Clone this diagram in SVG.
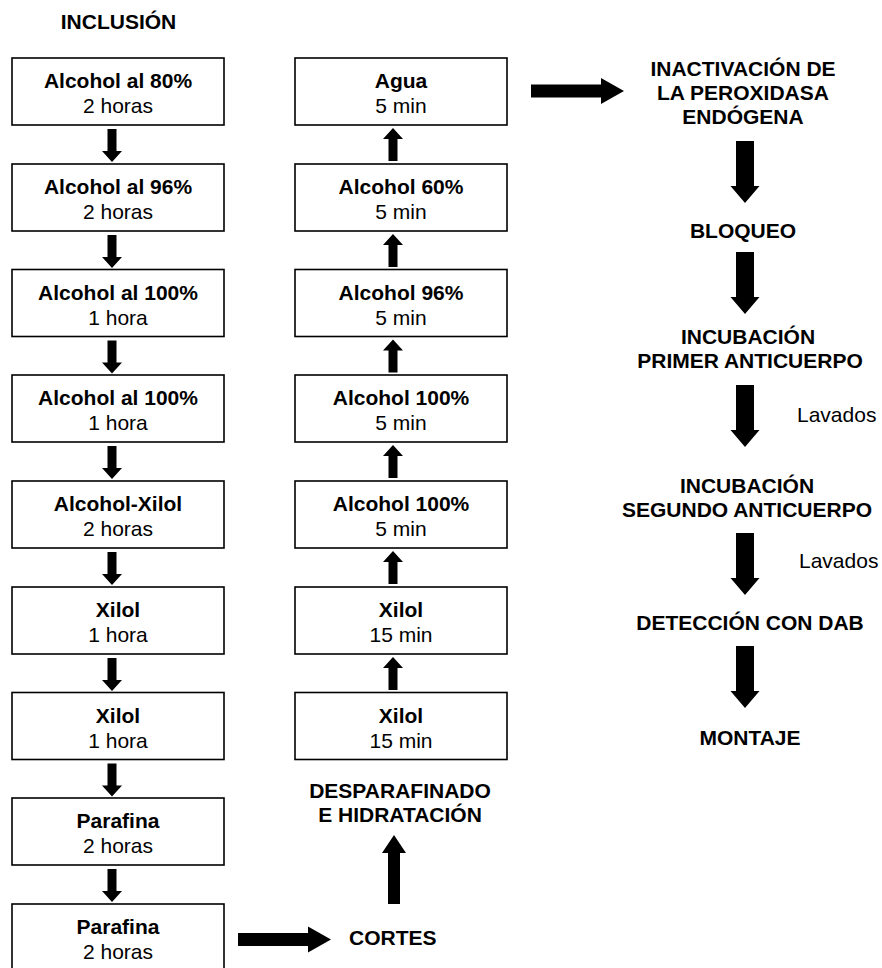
<svg xmlns="http://www.w3.org/2000/svg" xmlns:xlink="http://www.w3.org/1999/xlink" width="882" height="968" viewBox="0 0 882 968">
<style>
text{font-family:"Liberation Sans",Arial,sans-serif;font-size:21px;fill:#000}
.b{font-weight:bold;text-anchor:middle}
.r{text-anchor:middle}
.l{text-anchor:start}
.box{fill:#fff;stroke:#000;stroke-width:1.6}
.arr{fill:#000}
</style>
<defs>
<path id="sd" d="M-4.5,0H4.5V22H10L0,33L-10,22H-4.5Z"/>
<path id="su" d="M0,0L10,11H4.5V33H-4.5V11H-10Z"/>
<path id="bd" d="M-9,0H9V45H14.5L0,62L-14.5,45H-9Z"/>
<path id="bu" d="M0,0L12,18H6V69H-6V18H-12Z"/>
<path id="br" d="M0,-6.5H70V-13L93,0L70,13V6.5H0Z"/>
</defs>
<g id="title"><text class="b" x="118.5" y="29">INCLUSIÓN</text></g>

<g id="l1"><rect class="box" x="12" y="58" width="212" height="67"/><text class="b" x="118" y="88">Alcohol al 80%</text><text class="r" x="118" y="113">2 horas</text></g>
<g id="l2"><rect class="box" x="12" y="164" width="212" height="67"/><text class="b" x="118" y="194">Alcohol al 96%</text><text class="r" x="118" y="219">2 horas</text></g>
<g id="l3"><rect class="box" x="12" y="269.5" width="212" height="67"/><text class="b" x="118" y="299.5">Alcohol al 100%</text><text class="r" x="118" y="324.5">1 hora</text></g>
<g id="l4"><rect class="box" x="12" y="375" width="212" height="67"/><text class="b" x="118" y="405">Alcohol al 100%</text><text class="r" x="118" y="430">1 hora</text></g>
<g id="l5"><rect class="box" x="12" y="481" width="212" height="67"/><text class="b" x="118" y="511">Alcohol-Xilol</text><text class="r" x="118" y="536">2 horas</text></g>
<g id="l6"><rect class="box" x="12" y="587" width="212" height="67"/><text class="b" x="118" y="617">Xilol</text><text class="r" x="118" y="642">1 hora</text></g>
<g id="l7"><rect class="box" x="12" y="692.5" width="212" height="67"/><text class="b" x="118" y="722.5">Xilol</text><text class="r" x="118" y="747.5">1 hora</text></g>
<g id="l8"><rect class="box" x="12" y="798" width="212" height="67"/><text class="b" x="118" y="828">Parafina</text><text class="r" x="118" y="853">2 horas</text></g>
<g id="l9"><rect class="box" x="12" y="904" width="212" height="67"/><text class="b" x="118" y="934">Parafina</text><text class="r" x="118" y="959">2 horas</text></g>

<g id="m1"><rect class="box" x="295" y="58" width="212" height="67"/><text class="b" x="401" y="88">Agua</text><text class="r" x="401" y="113">5 min</text></g>
<g id="m2"><rect class="box" x="295" y="164" width="212" height="67"/><text class="b" x="401" y="194">Alcohol 60%</text><text class="r" x="401" y="219">5 min</text></g>
<g id="m3"><rect class="box" x="295" y="269.5" width="212" height="67"/><text class="b" x="401" y="299.5">Alcohol 96%</text><text class="r" x="401" y="324.5">5 min</text></g>
<g id="m4"><rect class="box" x="295" y="375" width="212" height="67"/><text class="b" x="401" y="405">Alcohol 100%</text><text class="r" x="401" y="430">5 min</text></g>
<g id="m5"><rect class="box" x="295" y="481" width="212" height="67"/><text class="b" x="401" y="511">Alcohol 100%</text><text class="r" x="401" y="536">5 min</text></g>
<g id="m6"><rect class="box" x="295" y="587" width="212" height="67"/><text class="b" x="401" y="617">Xilol</text><text class="r" x="401" y="642">15 min</text></g>
<g id="m7"><rect class="box" x="295" y="692.5" width="212" height="67"/><text class="b" x="401" y="722.5">Xilol</text><text class="r" x="401" y="747.5">15 min</text></g>

<g id="desparafinado"><text class="b" x="400" y="798">DESPARAFINADO</text><text class="b" x="400" y="822">E HIDRATACIÓN</text></g>
<g id="cortes"><text class="l" font-weight="bold" x="349" y="945">CORTES</text></g>

<g id="r1"><text class="b" x="743" y="76">INACTIVACIÓN DE</text><text class="b" x="743" y="100">LA PEROXIDASA</text><text class="b" x="743" y="124">ENDÓGENA</text></g>
<g id="r2"><text class="b" x="743" y="238">BLOQUEO</text></g>
<g id="r3"><text class="b" x="748" y="344">INCUBACIÓN</text><text class="b" x="750" y="368">PRIMER ANTICUERPO</text></g>
<g id="r4"><text class="b" x="747" y="493">INCUBACIÓN</text><text class="b" x="747" y="517">SEGUNDO ANTICUERPO</text></g>
<g id="r5"><text class="b" x="750" y="630">DETECCIÓN CON DAB</text></g>
<g id="r6"><text class="b" x="750" y="745">MONTAJE</text></g>
<g id="lavados"><text class="l" x="797" y="422">Lavados</text><text class="l" x="799" y="568">Lavados</text></g>

<g id="connectors" class="arr">
<use xlink:href="#sd" x="112" y="129"/>
<use xlink:href="#sd" x="112" y="235"/>
<use xlink:href="#sd" x="112" y="340.5"/>
<use xlink:href="#sd" x="112" y="446"/>
<use xlink:href="#sd" x="112" y="552"/>
<use xlink:href="#sd" x="112" y="658"/>
<use xlink:href="#sd" x="112" y="763.5"/>
<use xlink:href="#sd" x="112" y="869"/>
<use xlink:href="#su" x="393" y="128"/>
<use xlink:href="#su" x="393" y="234"/>
<use xlink:href="#su" x="393" y="339.5"/>
<use xlink:href="#su" x="393" y="445"/>
<use xlink:href="#su" x="393" y="551"/>
<use xlink:href="#su" x="393" y="657"/>
<use xlink:href="#bu" x="394" y="835"/>
<use xlink:href="#br" x="238" y="939.5"/>
<use xlink:href="#br" x="531" y="91"/>
<use xlink:href="#bd" x="745" y="141"/>
<use xlink:href="#bd" x="745" y="252"/>
<use xlink:href="#bd" x="745" y="385"/>
<use xlink:href="#bd" x="745" y="533"/>
<use xlink:href="#bd" x="745" y="646"/>
</g>
</svg>
